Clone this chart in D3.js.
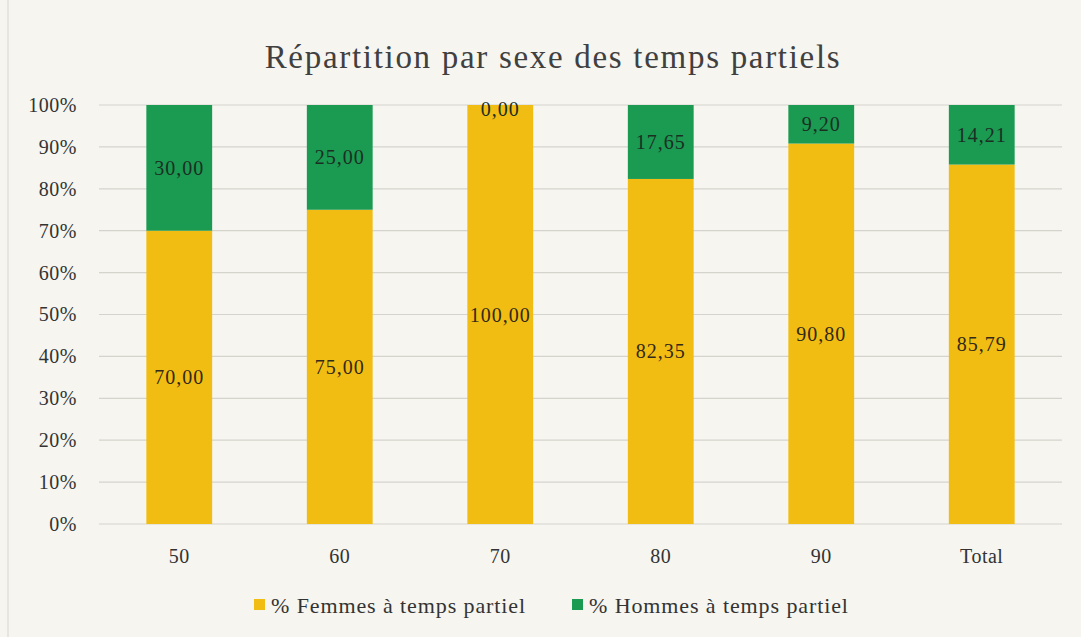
<!DOCTYPE html>
<html><head><meta charset="utf-8">
<script src="https://cdn.jsdelivr.net/npm/d3@7"></script>
<style>
html,body{margin:0;padding:0;background:#f6f5f0;}
svg{display:block;}
text{font-family:"Liberation Serif","DejaVu Serif",serif;}
</style></head>
<body>
<svg id="c" width="1081" height="637"></svg>
<script>
const categories = ["50","60","70","80","90","Total"];
const femmes = [70.00, 75.00, 100.00, 82.35, 90.80, 85.79];
const hommes = [30.00, 25.00, 0.00, 17.65, 9.20, 14.21];
const yTicks = [0,10,20,30,40,50,60,70,80,90,100];
const seriesNames = ["% Femmes à temps partiel", "% Hommes à temps partiel"];
const colors = ["#f2bd12", "#1b9a52"];
const title = "Répartition par sexe des temps partiels";

const svg = d3.select("#c");
const W = 1081, H = 637;
const plot = {left: 99, right: 1062, top: 105, bottom: 524};

svg.append("rect").attr("x",0).attr("y",0).attr("width",W).attr("height",H).attr("fill","#f6f5f0");
svg.append("line").attr("x1",8).attr("x2",8).attr("y1",0).attr("y2",H).attr("stroke","#d6d6d0").attr("stroke-width",1);

const x = d3.scaleBand().domain(categories).range([plot.left, plot.right]).paddingInner(0.59).paddingOuter(0.295);
const y = d3.scaleLinear().domain([0,100]).range([plot.bottom, plot.top]);

// grid
svg.append("g").selectAll("line").data(yTicks).join("line")
  .attr("x1", plot.left).attr("x2", plot.right)
  .attr("y1", d=>y(d)).attr("y2", d=>y(d))
  .attr("stroke","#d4d3cc").attr("stroke-width",1.2);

// y axis labels
const yAxis = d3.axisLeft(y).tickValues(yTicks).tickFormat(d=>d+"%").tickSize(0).tickPadding(0);
const ya = svg.append("g").attr("transform",`translate(${plot.left-22},0)`).call(yAxis);
ya.select(".domain").remove();
ya.selectAll("text").attr("font-size",20).attr("fill","#333").attr("font-family","Liberation Serif, serif").attr("letter-spacing","0.5px");

// x axis labels
const xAxis = d3.axisBottom(x).tickSize(0).tickPadding(0);
const xa = svg.append("g").attr("transform",`translate(0,${plot.bottom+25})`).call(xAxis);
xa.select(".domain").remove();
xa.selectAll("text").attr("font-size",20).attr("fill","#333").attr("font-family","Liberation Serif, serif").attr("letter-spacing","0.5px");

const stackData = categories.map((c,i)=>({cat:c, f:femmes[i], h:hommes[i]}));
const stack = d3.stack().keys(["f","h"])(stackData);

const g = svg.append("g");
stack.forEach((layer,li)=>{
  g.append("g").selectAll("rect").data(layer).join("rect")
    .attr("x", d=>x(d.data.cat))
    .attr("width", x.bandwidth())
    .attr("y", d=>y(d[1]))
    .attr("height", d=>y(d[0])-y(d[1]))
    .attr("fill", colors[li]);
});
const fmt = v => v.toFixed(2).replace(".",",");
stack.forEach((layer,li)=>{
  g.append("g").selectAll("text").data(layer).join("text")
    .attr("x", d=>x(d.data.cat)+x.bandwidth()/2)
    .attr("y", d=>{
      const mid = (y(d[0])+y(d[1]))/2;
      return (d[1]-d[0] < 3) ? y(d[1]) + 11 : mid + 7;
    })
    .attr("text-anchor","middle")
    .attr("font-size",20)
    .attr("letter-spacing","1px")
    .attr("fill", li===0 ? "#33291a" : "#1a2e22")
    .text(d=>fmt(d[1]-d[0]));
});

// title
svg.append("text").attr("x",553).attr("y",68).attr("text-anchor","middle")
  .attr("font-size",33).attr("letter-spacing","1.7px").attr("fill","#404040").text(title);

// legend
const leg = svg.append("g");
const legItems = [{x:254},{x:572}];
seriesNames.forEach((n,i)=>{
  leg.append("rect").attr("x",legItems[i].x).attr("y",599).attr("width",11).attr("height",11).attr("fill",colors[i]);
  leg.append("text").attr("x",legItems[i].x+17).attr("y",613).attr("font-size",22).attr("letter-spacing","0.9px").attr("fill","#333").text(n);
});
</script>
</body></html>
